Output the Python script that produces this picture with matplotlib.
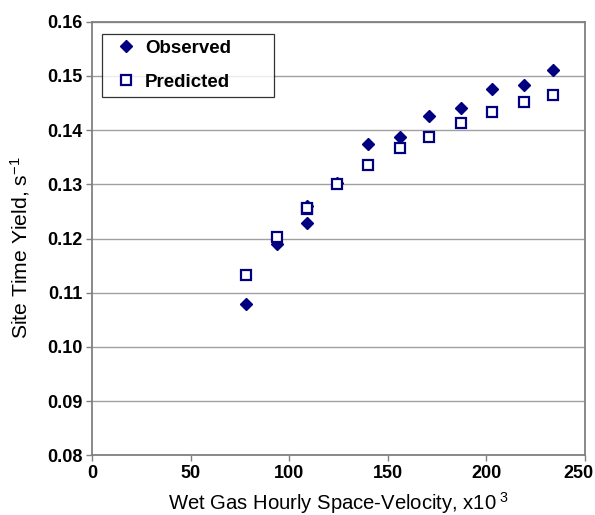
import matplotlib
matplotlib.use("Agg")
import matplotlib.pyplot as plt
import matplotlib.transforms as mtransforms

plt.rcParams['font.family'] = ['Liberation Sans', 'DejaVu Sans']
plt.rcParams['mathtext.fontset'] = 'custom'
plt.rcParams['mathtext.rm'] = 'Liberation Sans'
plt.rcParams['mathtext.it'] = 'Liberation Sans:italic'
plt.rcParams['mathtext.bf'] = 'Liberation Sans:bold'

# Data
obs_x = [78, 94, 109, 109, 124, 140, 156, 171, 187, 203, 219, 234]
obs_y = [0.1079, 0.1189, 0.1229, 0.1260, 0.1303, 0.1374, 0.1387, 0.1426, 0.1440, 0.1475, 0.1484, 0.1510]
pred_x = [78, 94, 109, 109, 124, 140, 156, 171, 187, 203, 219, 234]
pred_y = [0.1133, 0.1202, 0.1255, 0.1257, 0.1301, 0.1335, 0.1367, 0.1387, 0.1413, 0.1433, 0.1451, 0.1465]
x_ticks = [0, 50, 100, 150, 200, 250]
y_ticks = [0.08, 0.09, 0.10, 0.11, 0.12, 0.13, 0.14, 0.15, 0.16]

navy = '#000080'
gray = '#808080'

fig = plt.figure(figsize=(5.95, 5.15), dpi=100)
ax = fig.add_axes([92/595, 1 - 455.3/515, (585-92)/595, (455.3-21.7)/515])

ax.plot(obs_x, obs_y, linestyle='none', marker='D', markersize=6.5,
        color=navy, markeredgecolor=navy, label='Observed', zorder=3)
ax.plot(pred_x, pred_y, linestyle='none', marker='s', markersize=7.6,
        markerfacecolor='white', markeredgecolor=navy, markeredgewidth=1.6,
        label='Predicted', zorder=3)

ax.set_xlim(0, 250)
ax.set_ylim(0.08, 0.16)
ax.set_xticks(x_ticks)
ax.set_yticks(y_ticks)
# last x label drawn separately (shifted left to stay inside the figure)
ax.set_xticklabels([str(v) for v in x_ticks[:-1]] + [''], fontsize=13, fontweight='bold')
ax.set_yticklabels([f"{v:.2f}" for v in y_ticks], fontsize=13, fontweight='bold')
trans = (mtransforms.blended_transform_factory(ax.transData, ax.transAxes)
         + mtransforms.ScaledTranslation(-7/100, -7/72, fig.dpi_scale_trans))
ax.text(x_ticks[-1], 0, str(x_ticks[-1]), transform=trans, ha='center', va='top',
        fontsize=13, fontweight='bold', clip_on=False)

ax.yaxis.grid(True, color='#a0a0a0', linewidth=1.0)
ax.set_axisbelow(True)
for s in ax.spines.values():
    s.set_color(gray)
    s.set_linewidth(1.3)
ax.tick_params(axis='both', direction='out', length=4, width=1, color=gray, pad=3)

ax.set_xlabel('Wet Gas Hourly Space-Velocity, x10$^{\\ \\mathrm{3}}$', fontsize=14.6, labelpad=6)
ax.set_ylabel('Site Time Yield, s$^{\\mathrm{-1}}$', fontsize=15.2)
ax.yaxis.set_label_coords(-0.122, 0.479)

leg = ax.legend(loc='upper left', bbox_to_anchor=(0.0203, 0.972 - 0.143, 0.349, 0.143),
                mode='expand', borderaxespad=0,
                frameon=True, fancybox=False, edgecolor='black',
                prop={'weight': 'bold', 'size': 13.5}, handletextpad=0.0,
                borderpad=0.3, labelspacing=0.92, handlelength=2.0)
leg.get_frame().set_linewidth(0.9)

fig.savefig('out.png', dpi=100)
